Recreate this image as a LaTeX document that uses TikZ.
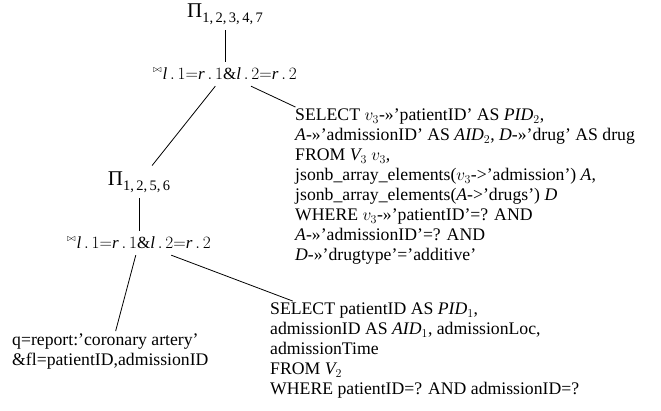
\documentclass[tikz,border=0pt]{standalone}
\usepackage{fontspec}
\setmainfont{Liberation Serif}

\begin{document}
\begin{tikzpicture}[x=1pt,y=1pt,level 1/.style={level distance=60pt},level 2/.style={level distance=108pt,sibling distance=172pt},level 3/.style={level distance=61pt},level 4/.style={level distance=108pt,sibling distance=258pt},every node/.style={inner sep=6pt},proj/.style={font=\fontsize{21pt}{24pt}\selectfont},joinop/.style={font=\fontsize{17pt}{20pt}\selectfont},sql/.style={inner sep=2pt,anchor=west,align=left,font=\fontsize{17.7pt}{20pt}\selectfont},edge from parent/.style={draw,line width=0.8pt}]
\useasboundingbox (0,0) rectangle (661,-410);
\node[proj](proj1) at (225,-14) {Π\raisebox{-4.5pt}{\fontsize{14.5pt}{16pt}\selectfont 1,\,2,\,3,\,4,\,7}}
child { node[joinop](join1) {\raisebox{7pt}{\fontsize{10pt}{10pt}\selectfont$\bowtie$}\hspace{1pt}$\mathit{l}\,.\,1{=}\mathit{r}\,.\,1\&\mathit{l}\,.\,2{=}\mathit{r}\,.\,2$}
child { node[proj](proj2) {Π\raisebox{-4.5pt}{\fontsize{14.5pt}{16pt}\selectfont 1,\,2,\,5,\,6}}
child { node[joinop](join2) {\raisebox{7pt}{\fontsize{10pt}{10pt}\selectfont$\bowtie$}\hspace{1pt}$\mathit{l}\,.\,1{=}\mathit{r}\,.\,1\&\mathit{l}\,.\,2{=}\mathit{r}\,.\,2$}
child { node[sql](query) {q=report:’coronary artery’\\\&fl=patientID,admissionID} }
child { node[sql](sel2) {SELECT patientID AS $\mathit{PID}_1$,\\admissionID AS $\mathit{AID}_1$, admissionLoc,\\admissionTime\\FROM $\mathit{V}_2$\\WHERE patientID=? AND admissionID=?} } } }
child { node[sql,xshift=-18pt,yshift=-5pt](sel1) {SELECT $v_3$-»’patientID’ AS $\mathit{PID}_2$,\\$\mathit{A}$-»’admissionID’ AS $\mathit{AID}_2$, $\mathit{D}$-»’drug’ AS drug\\FROM $\mathit{V}_3$ $v_3$,\\jsonb\_array\_elements($v_3$->’admission’) $\mathit{A}$,\\jsonb\_array\_elements($\mathit{A}$->’drugs’) $\mathit{D}$\\WHERE $v_3$-»’patientID’=? AND\\$\mathit{A}$-»’admissionID’=? AND\\$\mathit{D}$-»’drugtype’=’additive’} } };
\end{tikzpicture}
\end{document}
